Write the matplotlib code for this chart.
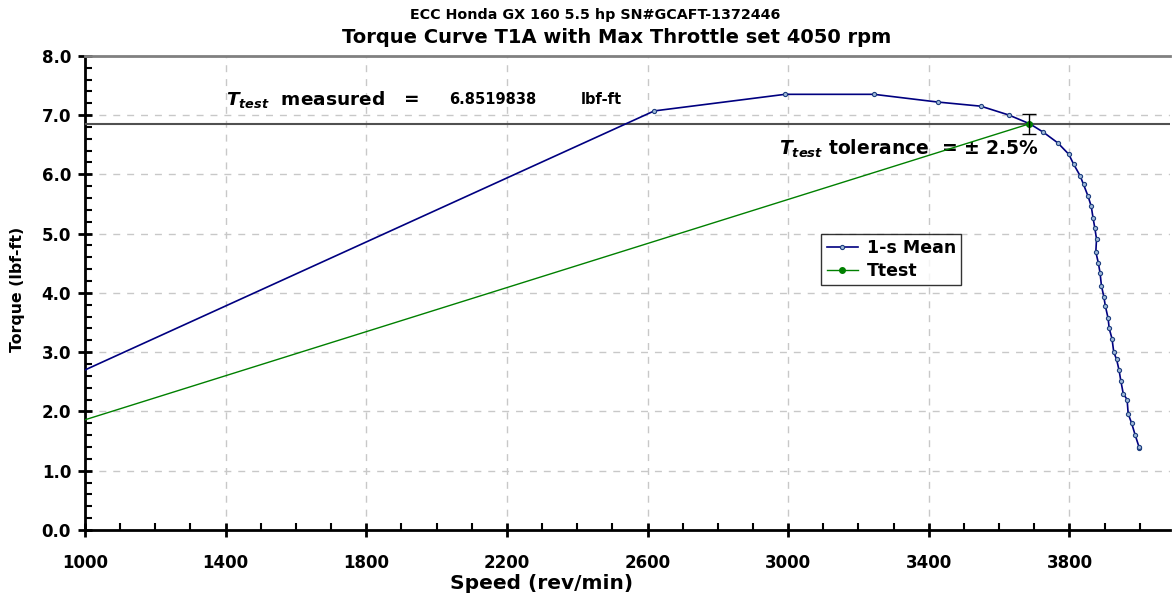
import matplotlib
matplotlib.use("Agg")
import matplotlib.pyplot as plt
from matplotlib.ticker import MultipleLocator, FormatStrFormatter

plt.rcParams['font.family'] = ['DejaVu Sans']
plt.rcParams['font.weight'] = 'bold'
plt.rcParams['mathtext.fontset'] = 'custom'
plt.rcParams['mathtext.it'] = 'DejaVu Sans:italic:bold'
plt.rcParams['mathtext.rm'] = 'DejaVu Sans:bold'

# 1-s mean torque curve (rev/min, lbf-ft)
mean_speed = [0, 2619, 2991, 3244, 3425, 3548, 3628, 3688, 3726, 3767, 3798,
              3812, 3830, 3840, 3853, 3862, 3867, 3872, 3877, 3875, 3882,
              3887, 3891, 3898, 3902, 3910, 3913, 3921, 3926, 3934, 3941,
              3946, 3953, 3964, 3967, 3977, 3987, 3999, 3997]
mean_torque = [0.0, 7.07, 7.35, 7.35, 7.22, 7.15, 7.00, 6.85, 6.71, 6.53, 6.34,
               6.17, 5.98, 5.83, 5.63, 5.46, 5.27, 5.10, 4.91, 4.69, 4.51,
               4.34, 4.12, 3.93, 3.78, 3.57, 3.40, 3.23, 3.00, 2.88, 2.70,
               2.52, 2.30, 2.20, 1.96, 1.80, 1.60, 1.38, 1.40]

# Ttest line
ttest_value = 6.8519838
ttest_speed = [0, 3686]
ttest_torque = [0.0, ttest_value]
tolerance_pct = 2.5

fig = plt.figure(figsize=(11.72, 6.0), dpi=100)
ax = fig.add_axes([0.0725, 0.1167, 0.9255, 0.7903])

ax.plot(mean_speed, mean_torque, color='#000080', lw=1.2, marker='o',
        ms=3, mfc='#9fb8d8', mec='#1f3f7f', mew=0.8, label='1-s Mean', zorder=4)
ax.plot(ttest_speed, ttest_torque, color='#008000', lw=1.0, marker='o',
        ms=4, mfc='#008000', mec='#008000', label='Ttest', zorder=5)
ax.errorbar([ttest_speed[1]], [ttest_value], yerr=[ttest_value * tolerance_pct / 100],
            fmt='none', ecolor='black', elinewidth=1, capsize=5, zorder=6)

ax.axhline(ttest_value, color='#505050', lw=1.5, zorder=3)
ax.axhline(8.0, color='#808080', lw=2, zorder=3, clip_on=False)

ax.set_xlim(1000, 4085)
ax.set_ylim(0, 8.0)
ax.xaxis.set_major_locator(MultipleLocator(400))
ax.xaxis.set_minor_locator(MultipleLocator(100))
ax.yaxis.set_major_locator(MultipleLocator(1.0))
ax.yaxis.set_minor_locator(MultipleLocator(0.2))
ax.yaxis.set_major_formatter(FormatStrFormatter('%.1f'))
ax.set_xticks([1000, 1400, 1800, 2200, 2600, 3000, 3400, 3800])

ax.grid(True, which='major', color='#c8c8c8', ls=(0, (5, 5)), lw=1)
ax.set_axisbelow(True)

for side in ['top', 'right']:
    ax.spines[side].set_visible(False)
for side in ['left', 'bottom']:
    ax.spines[side].set_linewidth(2)
    ax.spines[side].set_color('black')

ax.tick_params(axis='both', which='major', direction='inout', length=10, width=2,
               labelsize=12, pad=5)
ax.tick_params(axis='both', which='minor', direction='in', length=5, width=1.5)
ax.tick_params(axis='x', pad=12)
for lab in ax.get_xticklabels() + ax.get_yticklabels():
    lab.set_fontweight('bold')

fig.text(0.508, 0.975, 'ECC Honda GX 160 5.5 hp SN#GCAFT-1372446',
         ha='center', va='center', fontsize=10.3, fontweight='bold')
fig.text(0.526, 0.937, 'Torque Curve T1A with Max Throttle set 4050 rpm',
         ha='center', va='center', fontsize=14, fontweight='bold')
fig.text(0.015, 0.517, 'Torque (lbf-ft)', rotation=90, ha='center', va='center',
         fontsize=11.3, fontweight='bold')
fig.text(0.462, 0.028, 'Speed (rev/min)', ha='center', va='center',
         fontsize=14.5, fontweight='bold')

ax.text(1400, 7.27, r'$T_{test}$' + '  measured   =', fontsize=13.3,
        fontweight='bold', va='center')
ax.text(2035, 7.27, '6.8519838', fontsize=10.5, fontweight='bold', va='center')
ax.text(2410, 7.27, 'lbf-ft', fontsize=10.5, fontweight='bold', va='center')
ax.text(2975, 6.43, r'$T_{test}$' + ' tolerance  = ± 2.5%', fontsize=13.5,
        fontweight='bold', va='center')

leg = ax.legend(loc='upper left', bbox_to_anchor=(0.679, 0.625), fontsize=12.5,
                frameon=True, fancybox=False, edgecolor='black', borderpad=0.3,
                borderaxespad=0, handlelength=1.8, handletextpad=0.5,
                labelspacing=0.3)
leg.get_frame().set_linewidth(1)
for t in leg.get_texts():
    t.set_fontweight('bold')

fig.savefig('out.png', dpi=100)
